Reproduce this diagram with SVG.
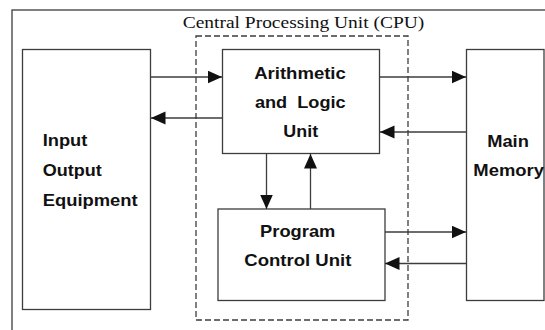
<svg xmlns="http://www.w3.org/2000/svg" width="545" height="330" viewBox="0 0 545 330">
<defs>
<style>
.box{fill:#fff;stroke:#3c3c3c;stroke-width:1.3}
.dash{fill:none;stroke:#3c3c3c;stroke-width:1.3;stroke-dasharray:6 3}
.conn{stroke:#3c3c3c;stroke-width:1.3;fill:none;marker-end:url(#arr)}
.lbl{font-family:"Liberation Sans",Arial,sans-serif;font-weight:bold;font-size:16.5px;fill:#111;white-space:pre}
.title{font-family:"Liberation Serif","Times New Roman",serif;font-size:17.5px;fill:#111}
</style>
<marker id="arr" markerUnits="userSpaceOnUse" markerWidth="15" markerHeight="14" refX="14.5" refY="6.5" orient="auto">
<path d="M0,0 L14.5,6.5 L0,13 z" fill="#111"/>
</marker>
</defs>
<rect width="545" height="330" fill="#fff"/>
<rect x="12" y="10" width="600" height="400" fill="none" stroke="#3c3c3c" stroke-width="1.3"/>
<g id="cpu">
<rect class="dash" x="196" y="36" width="212" height="284"/>
<text class="title" x="182.7" y="28" textLength="241.6" lengthAdjust="spacingAndGlyphs">Central Processing Unit (CPU)</text>
</g>
<g id="io">
<rect class="box" x="22.5" y="49.5" width="128" height="260"/>
<text class="lbl" x="42.7" y="146" textLength="44.7" lengthAdjust="spacingAndGlyphs">Input</text>
<text class="lbl" x="42.7" y="176" textLength="59" lengthAdjust="spacingAndGlyphs">Output</text>
<text class="lbl" x="42.7" y="206" textLength="95" lengthAdjust="spacingAndGlyphs">Equipment</text>
</g>
<g id="alu">
<rect class="box" x="222.5" y="49.5" width="157" height="104"/>
<text class="lbl" x="300" y="79" text-anchor="middle" textLength="91.7" lengthAdjust="spacingAndGlyphs">Arithmetic</text>
<text class="lbl" x="300.3" y="107.5" text-anchor="middle" textLength="90.7" lengthAdjust="spacingAndGlyphs">and  Logic</text>
<text class="lbl" x="300.7" y="136.5" text-anchor="middle" textLength="34.8" lengthAdjust="spacingAndGlyphs">Unit</text>
</g>
<g id="pcu">
<rect class="box" x="218" y="209" width="167" height="91.5"/>
<text class="lbl" x="297.7" y="236.5" text-anchor="middle" textLength="75.3" lengthAdjust="spacingAndGlyphs">Program</text>
<text class="lbl" x="297.8" y="265.5" text-anchor="middle" textLength="107" lengthAdjust="spacingAndGlyphs">Control Unit</text>
</g>
<g id="memory">
<rect class="box" x="466.5" y="49.5" width="77.5" height="251"/>
<text class="lbl" x="508" y="146.5" text-anchor="middle" textLength="41.7" lengthAdjust="spacingAndGlyphs">Main</text>
<text class="lbl" x="508.7" y="175.5" text-anchor="middle" textLength="70.7" lengthAdjust="spacingAndGlyphs">Memory</text>
</g>
<g id="connectors">
<line class="conn" x1="151" y1="77" x2="222" y2="77"/>
<line class="conn" x1="222" y1="118" x2="151" y2="118"/>
<line class="conn" x1="380" y1="77" x2="466" y2="77"/>
<line class="conn" x1="466" y1="132" x2="380" y2="132"/>
<line class="conn" x1="266.5" y1="154" x2="266.5" y2="209"/>
<line class="conn" x1="310.5" y1="209" x2="310.5" y2="154"/>
<line class="conn" x1="385" y1="232" x2="466" y2="232"/>
<line class="conn" x1="466" y1="263.5" x2="385" y2="263.5"/>
</g>
</svg>
